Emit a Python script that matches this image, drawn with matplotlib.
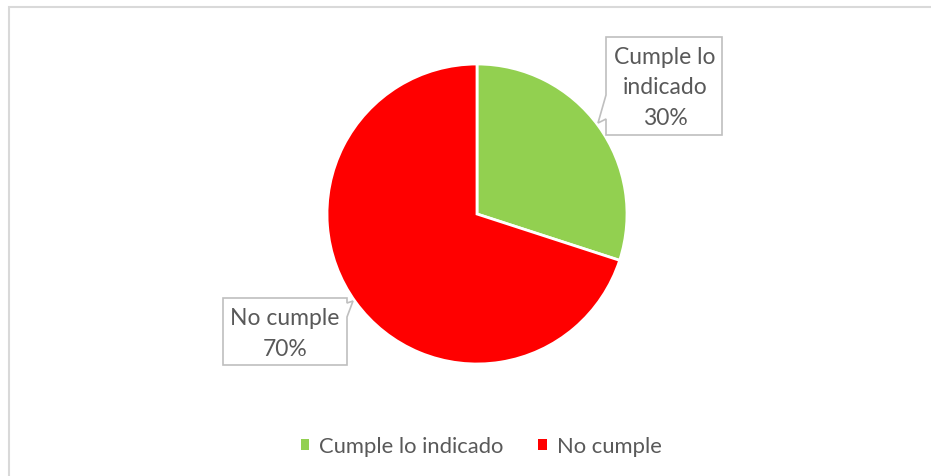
import matplotlib
matplotlib.use('Agg')
import matplotlib.pyplot as plt
from matplotlib.patches import Polygon, Rectangle

W, H = 931, 477
DPI = 100

labels = ['Cumple lo indicado', 'No cumple']
values = [30, 70]
colors = ['#92d050', '#ff0000']
callout_text = ['Cumple lo\nindicado\n30%', 'No cumple\n70%']

TEXT_COLOR = '#595959'
BOX_EDGE = '#bfbfbf'
FONT = 'Lato'

plt.rcParams['font.family'] = [FONT, 'DejaVu Sans']


def px(x, y):
    # pixel coords (top-left origin) -> data coords
    return x, H - y


fig = plt.figure(figsize=(W / DPI, H / DPI), dpi=DPI)
ax = fig.add_axes([0, 0, 1, 1])

# chart area border (cropped at right and bottom)
ax.add_patch(Rectangle(px(9, H + 5), W, H + 5 - 8, fill=False,
                       edgecolor='#d9d9d9', linewidth=1.5))

wedges, _ = ax.pie(values, colors=colors, startangle=90, counterclock=False,
                   center=px(477, 215), radius=150,
                   wedgeprops=dict(edgecolor='white', linewidth=2))
ax.set_xlim(0, W)
ax.set_ylim(0, H)
ax.set_aspect('equal')
ax.axis('off')

# callout boxes with pointer
box1 = [(606, 38), (722, 38), (722, 136), (606, 136), (606, 120),
        (598, 124), (606, 96)]
box2 = [(223, 299), (347, 299), (347, 304), (353, 302), (347, 318),
        (347, 366), (223, 366)]
for pts in (box1, box2):
    ax.add_patch(Polygon([px(x, y) for x, y in pts], closed=True,
                         facecolor='white', edgecolor=BOX_EDGE, linewidth=1.2))

ax.text(*px(665, 88), callout_text[0], ha='center', va='center',
        fontsize=16.5, color=TEXT_COLOR, linespacing=1.55)
ax.text(*px(285, 334), callout_text[1], ha='center', va='center',
        fontsize=16.5, color=TEXT_COLOR, linespacing=1.55)

leg = ax.legend(wedges, labels, loc='center', bbox_to_anchor=(481 / W, 1 - 447 / H),
                ncol=2, frameon=False, fontsize=15.8, handlelength=0.38,
                handleheight=0.38, handletextpad=0.45, columnspacing=1.6)
for t in leg.get_texts():
    t.set_color(TEXT_COLOR)
for h in leg.legend_handles:
    h.set_edgecolor('none')

fig.savefig('out.png', dpi=DPI, facecolor='white')
